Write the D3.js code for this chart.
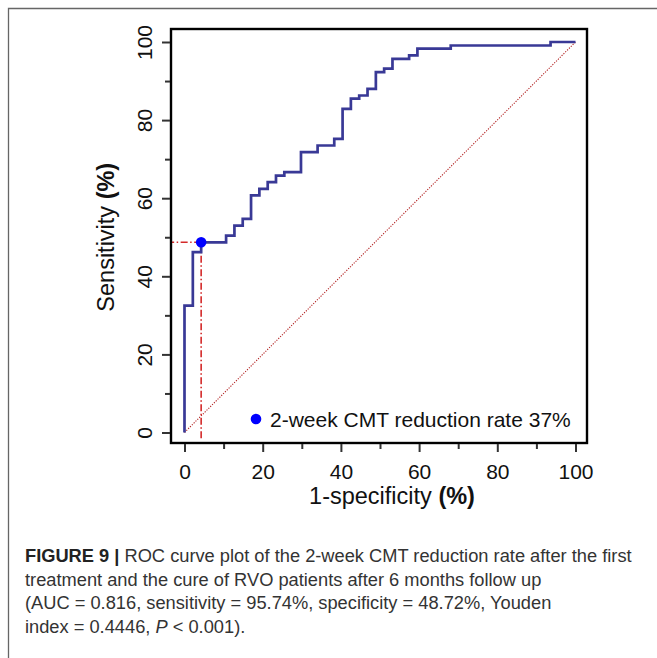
<!DOCTYPE html>
<html>
<head>
<meta charset="utf-8">
<script src="https://cdn.jsdelivr.net/npm/d3@7"></script>
<style>
  html, body { margin: 0; padding: 0; background: #fff; }
  svg { display: block; }
  text { font-family: "Liberation Sans", Arial, Helvetica, sans-serif; }
</style>
</head>
<body>
<svg id="chart" width="657" height="658"></svg>
<script>
// ---- data ----
const fpr = [0, 2.13, 4.26, 10.64, 12.77, 14.89, 17.02, 19.15, 21.28, 23.40, 25.53, 29.79, 34.04, 38.30, 40.43, 42.55, 44.68, 46.81, 48.94, 51.06, 53.19, 57.45, 59.57, 68.09, 93.62, 100];
const tpr = [0, 32.5, 46.2, 48.7, 50.4, 53.0, 54.7, 60.7, 62.4, 64.1, 65.8, 66.7, 71.8, 73.5, 75.2, 82.9, 85.5, 86.3, 88.0, 92.3, 93.2, 95.7, 96.6, 98.3, 99.1, 100];
const cutoffX = [4.26];
const cutoffY = [48.72];
const majorTicks = [0, 20, 40, 60, 80, 100];
const minorTicks = [10, 30, 50, 70, 90];
const legendLabels = ["2-week CMT reduction rate 37%"];
const xTitle = ["1-specificity ", "(%)"];
const yTitle = ["Sensitivity ", "(%)"];
const captionLines = [
  [{t: "FIGURE 9 | ", b: true}, {t: "ROC curve plot of the 2-week CMT reduction rate after the first"}],
  [{t: "treatment and the cure of RVO patients after 6 months follow up"}],
  [{t: "(AUC = 0.816, sensitivity = 95.74%, specificity = 48.72%, Youden"}],
  [{t: "index = 0.4446, "}, {t: "P", i: true}, {t: " < 0.001)."}]
];

// ---- drawing ----
const svg = d3.select("#chart");

// outer figure frame (top and left edges visible)
svg.append("path")
  .attr("d", "M8.5,658 L8.5,8.5 L657,8.5")
  .attr("fill", "none").attr("stroke", "#666").attr("stroke-width", 1.3);

const box = {l: 171, r: 587, t: 29, b: 443};
const x = d3.scaleLinear().domain([0, 100]).range([184.5, 575.5]);
const y = d3.scaleLinear().domain([0, 100]).range([432.5, 42]);

// diagonal reference
svg.append("line")
  .attr("x1", x(0)).attr("y1", y(0)).attr("x2", x(100)).attr("y2", y(100))
  .attr("stroke", "#b22222").attr("stroke-width", 1.1)
  .attr("stroke-dasharray", "1.2,1.4");

// cutoff guide lines
const cx = x(cutoffX[0]), cy = y(cutoffY[0]);
svg.append("line")
  .attr("x1", cx).attr("y1", cy).attr("x2", cx).attr("y2", y(-1.5))
  .attr("stroke", "#d42a2a").attr("stroke-width", 1.6)
  .attr("stroke-dasharray", "7,2.5,1.5,2.5");
svg.append("line")
  .attr("x1", cx).attr("y1", cy).attr("x2", box.l).attr("y2", cy)
  .attr("stroke", "#d42a2a").attr("stroke-width", 1.6)
  .attr("stroke-dasharray", "7,2.5,1.5,2.5");

// ROC curve
const pts = fpr.map((v, i) => [v, tpr[i]]);
svg.append("path")
  .datum(pts)
  .attr("d", d3.line().x(d => x(d[0])).y(d => y(d[1])).curve(d3.curveStepBefore))
  .attr("fill", "none").attr("stroke", "#393996").attr("stroke-width", 2.7)
  .attr("stroke-linejoin", "miter");

// cutoff point
svg.append("circle").attr("cx", cx).attr("cy", cy).attr("r", 5.3).attr("fill", "#0000ff");

// box
svg.append("rect")
  .attr("x", box.l).attr("y", box.t).attr("width", box.r - box.l).attr("height", box.b - box.t)
  .attr("fill", "none").attr("stroke", "#000").attr("stroke-width", 2.4);

// x axis (ticks below box)
const gx = svg.append("g").attr("transform", `translate(0,${box.b + 1})`);
gx.call(d3.axisBottom(x).tickValues(majorTicks).tickSize(8).tickPadding(12).tickFormat(d3.format("d")));
gx.append("g").call(d3.axisBottom(x).tickValues(minorTicks).tickSize(5).tickFormat(""));
gx.selectAll(".domain").remove();
gx.selectAll("line").attr("stroke", "#333").attr("stroke-width", 2);
gx.selectAll("text").attr("font-size", 21).attr("fill", "#111")
  .attr("font-family", "Liberation Sans, Arial, sans-serif");

// y axis (ticks left of box)
const gy = svg.append("g").attr("transform", `translate(${box.l - 1},0)`);
gy.call(d3.axisLeft(y).tickValues(majorTicks).tickSize(8).tickFormat(d3.format("d")));
gy.append("g").call(d3.axisLeft(y).tickValues(minorTicks).tickSize(5).tickFormat(""));
gy.selectAll(".domain").remove();
gy.selectAll("line").attr("stroke", "#333").attr("stroke-width", 2);
gy.selectAll(".tick text")
  .attr("font-size", 21).attr("fill", "#111")
  .attr("font-family", "Liberation Sans, Arial, sans-serif")
  .attr("x", null).attr("dy", null)
  .attr("text-anchor", "middle")
  .attr("transform", "translate(-18,0) rotate(-90)");

// axis titles
const xt = svg.append("text")
  .attr("x", 392).attr("y", 503.5).attr("text-anchor", "middle")
  .attr("font-size", 23.5).attr("fill", "#111");
xt.append("tspan").text(xTitle[0]);
xt.append("tspan").attr("font-weight", "bold").text(xTitle[1]);

const yt = svg.append("text")
  .attr("transform", `translate(114,${(y(0) + y(100)) / 2}) rotate(-90)`)
  .attr("text-anchor", "middle")
  .attr("font-size", 23.5).attr("fill", "#111");
yt.append("tspan").text(yTitle[0]);
yt.append("tspan").attr("font-weight", "bold").text(yTitle[1]);

// legend
svg.append("circle").attr("cx", 256).attr("cy", 419).attr("r", 5.3).attr("fill", "#0000ff");
svg.append("text").attr("x", 270).attr("y", 426.5)
  .attr("font-size", 21).attr("fill", "#111").text(legendLabels[0]);

// caption
const capG = svg.append("g");
const baselines = [562.5, 586, 609.5, 633];
captionLines.forEach((line, i) => {
  const t = capG.append("text").attr("x", 0).attr("y", baselines[i])
    .attr("font-size", 18.5).attr("fill", "#333");
  line.forEach(s => {
    const ts = t.append("tspan").text(s.t);
    if (s.b) ts.attr("font-weight", "bold").attr("fill", "#222");
    if (s.i) ts.attr("font-style", "italic");
  });
});
const firstW = capG.select("text").node().getComputedTextLength();
const sx = 607 / firstW;
capG.attr("transform", `translate(25,0) scale(${sx},1)`);
</script>
</body>
</html>
